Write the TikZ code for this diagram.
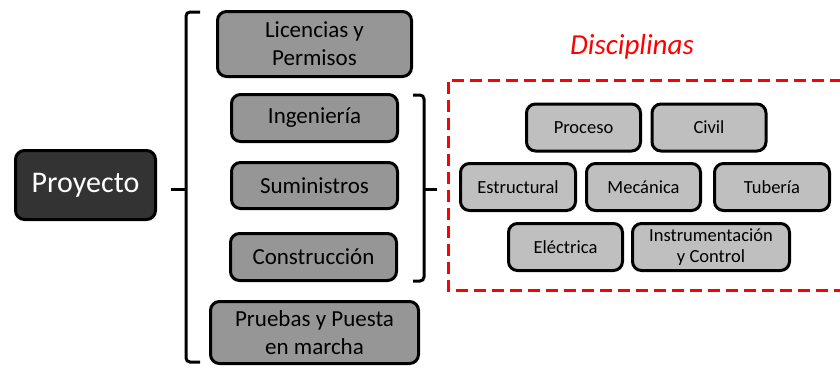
\documentclass[tikz,border=0pt]{standalone}
\usepackage{fontspec}
\setmainfont{Carlito}
\begin{document}
\begin{tikzpicture}[x=1pt,y=-1pt,
  box/.style={draw=black,line width=3pt,rounded corners=9pt,inner sep=0pt,align=center,text=black},
  darkbox/.style={box,fill=black!80,text=white,minimum width=140pt,minimum height=69pt,font=\fontsize{30}{36}\selectfont},
  midbox/.style={box,fill=black!41,font=\fontsize{23}{28}\selectfont},
  smallbox/.style={box,fill=black!25,minimum width=114pt,minimum height=47pt,font=\fontsize{18.5}{21.6}\selectfont},
  brk/.style={line width=3pt,rounded corners=4pt},
  reddash/.style={draw=red,line width=3pt,dash pattern=on 12pt off 6pt}
]
\useasboundingbox (0,0) rectangle (840,367);
\node[darkbox] (proy) at (85.5,185) {Proyecto};
\node[midbox,minimum width=194pt,minimum height=65pt] (lic) at (314.5,44) {Licencias y\\Permisos};
\node[midbox,minimum width=166pt,minimum height=47pt] (ing) at (314.5,118) {Ingeniería};
\node[midbox,minimum width=166pt,minimum height=46pt] (sum) at (314.5,185.5) {Suministros};
\node[midbox,minimum width=166pt,minimum height=47pt] (con) at (313.5,257) {Construcción};
\node[midbox,minimum width=208pt,minimum height=62pt] (pru) at (314.5,332.5) {Pruebas y Puesta\\en marcha};

\node[smallbox] (proc) at (583.5,127.5) {Proceso};
\node[smallbox] (civ) at (709,127.5) {Civil};
\node[smallbox,minimum width=115pt] (est) at (518,187) {Estructural};
\node[smallbox] (mec) at (643.5,187) {Mecánica};
\node[smallbox,minimum width=115pt] (tub) at (772,187) {Tubería};
\node[smallbox] (ele) at (565.5,247) {Eléctrica};
\node[smallbox,minimum width=157pt] (ins) at (711,247) {Instrumentación\\y Control};

\node[anchor=base,text=red,font=\fontsize{29}{34}\selectfont\itshape] (disc) at (632,54) {Disciplinas};

% big bracket
\coordinate (bt) at (200,12);
\coordinate (bb) at (200,362);
\coordinate (bm) at (186,189);
\coordinate (bs) at (171,189);
\draw[brk] (bt) -- (186,12) -- (186,362) -- (bb);
\draw[line width=3pt] (bs) -- (bm);
% right bracket
\coordinate (rt) at (413,95);
\coordinate (rb) at (413,281);
\coordinate (rm) at (424,189);
\coordinate (rs) at (437,189);
\draw[brk] (rt) -- (424,95) -- (424,281) -- (rb);
\draw[line width=3pt] (rm) -- (rs);
% red dashed frame
\draw[reddash] (842,80) -- (448,80) -- (448,290) -- (842,290);
\end{tikzpicture}
\end{document}
